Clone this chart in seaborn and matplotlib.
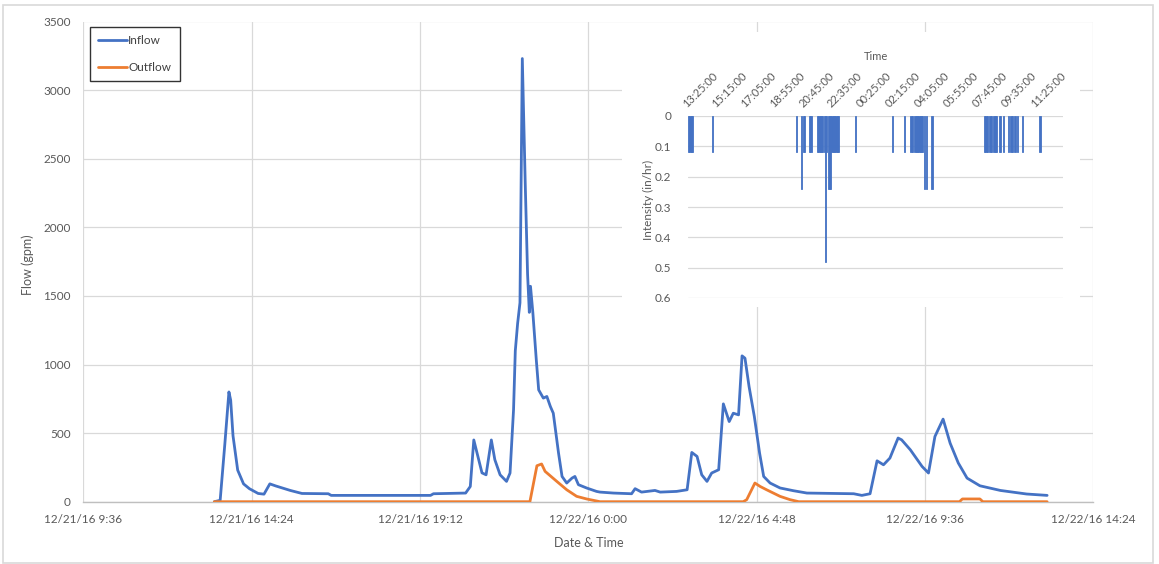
import numpy as np
import pandas as pd
import matplotlib
matplotlib.use("Agg")
import matplotlib.pyplot as plt
import matplotlib.dates as mdates
from matplotlib.patches import Rectangle
import seaborn as sns

# ---------------- data ----------------
inflow_time = [
    "2016-12-21 13:20", "2016-12-21 13:30", "2016-12-21 13:38", "2016-12-21 13:45", "2016-12-21 13:48",
    "2016-12-21 13:52", "2016-12-21 14:00", "2016-12-21 14:10", "2016-12-21 14:20", "2016-12-21 14:35",
    "2016-12-21 14:45", "2016-12-21 14:55", "2016-12-21 15:05", "2016-12-21 15:30", "2016-12-21 15:50",
    "2016-12-21 16:35", "2016-12-21 16:40", "2016-12-21 19:30", "2016-12-21 19:35", "2016-12-21 20:30",
    "2016-12-21 20:38", "2016-12-21 20:44", "2016-12-21 20:51", "2016-12-21 20:58", "2016-12-21 21:05",
    "2016-12-21 21:14", "2016-12-21 21:20", "2016-12-21 21:29", "2016-12-21 21:40", "2016-12-21 21:46",
    "2016-12-21 21:52", "2016-12-21 21:55", "2016-12-21 21:59", "2016-12-21 22:03", "2016-12-21 22:07",
    "2016-12-21 22:12", "2016-12-21 22:16", "2016-12-21 22:19", "2016-12-21 22:21", "2016-12-21 22:25",
    "2016-12-21 22:31", "2016-12-21 22:35", "2016-12-21 22:43", "2016-12-21 22:49", "2016-12-21 22:55",
    "2016-12-21 23:00", "2016-12-21 23:09", "2016-12-21 23:15", "2016-12-21 23:23", "2016-12-21 23:32",
    "2016-12-21 23:37", "2016-12-21 23:43", "2016-12-21 23:57", "2016-12-22 00:14", "2016-12-22 00:20",
    "2016-12-22 00:43", "2016-12-22 01:14", "2016-12-22 01:20", "2016-12-22 01:31", "2016-12-22 01:54",
    "2016-12-22 02:03", "2016-12-22 02:31", "2016-12-22 02:49", "2016-12-22 02:57", "2016-12-22 03:06",
    "2016-12-22 03:14", "2016-12-22 03:23", "2016-12-22 03:31", "2016-12-22 03:43", "2016-12-22 03:51",
    "2016-12-22 04:01", "2016-12-22 04:08", "2016-12-22 04:17", "2016-12-22 04:23", "2016-12-22 04:28",
    "2016-12-22 04:35", "2016-12-22 04:44", "2016-12-22 04:53", "2016-12-22 05:00", "2016-12-22 05:11",
    "2016-12-22 05:28", "2016-12-22 05:51", "2016-12-22 06:14", "2016-12-22 07:34", "2016-12-22 07:48",
    "2016-12-22 08:02", "2016-12-22 08:14", "2016-12-22 08:25", "2016-12-22 08:36", "2016-12-22 08:50",
    "2016-12-22 08:56", "2016-12-22 09:11", "2016-12-22 09:31", "2016-12-22 09:42", "2016-12-22 09:53",
    "2016-12-22 10:07", "2016-12-22 10:19", "2016-12-22 10:33", "2016-12-22 10:48", "2016-12-22 11:10",
    "2016-12-22 11:45", "2016-12-22 12:30", "2016-12-22 13:05",
]
inflow_gpm = [
    0, 10, 420, 800, 740,
    480, 230, 130, 95, 60,
    55, 130, 115, 82, 60,
    58, 46, 46, 58, 63,
    111, 450, 330, 210, 196,
    450, 306, 196, 148, 209,
    670, 1100, 1300, 1450, 3230,
    2320, 1660, 1380, 1570, 1380,
    1030, 815, 755, 767, 694,
    645, 354, 184, 136, 172,
    184, 124, 100, 75, 70,
    63, 58, 95, 70, 82,
    70, 75, 87, 359, 330,
    196, 148, 209, 233, 713,
    584, 645, 633, 1063, 1046,
    839, 621, 354, 184, 136,
    100, 80, 63, 58, 46,
    58, 298, 269, 318, 464,
    451, 378, 257, 209, 475,
    602, 427, 282, 172, 116,
    82, 56, 46,
]

outflow_time = [
    "2016-12-21 13:20", "2016-12-21 22:20", "2016-12-21 22:32", "2016-12-21 22:40", "2016-12-21 22:46",
    "2016-12-21 23:06", "2016-12-21 23:23", "2016-12-21 23:40", "2016-12-21 23:57", "2016-12-22 00:20",
    "2016-12-22 04:25", "2016-12-22 04:31", "2016-12-22 04:45", "2016-12-22 04:54", "2016-12-22 05:05",
    "2016-12-22 05:28", "2016-12-22 05:45", "2016-12-22 06:00", "2016-12-22 10:35", "2016-12-22 10:40",
    "2016-12-22 11:10", "2016-12-22 11:15", "2016-12-22 13:05",
]
outflow_gpm = [
    0, 0, 262, 275, 221,
    148, 87, 39, 20, 0,
    0, 15, 136, 111, 87,
    39, 15, 0, 0, 20,
    20, 0, 0,
]

rain_time = [
    "2016-12-21 13:25", "2016-12-21 13:30", "2016-12-21 13:35", "2016-12-21 13:40", "2016-12-21 14:55",
    "2016-12-21 20:15", "2016-12-21 20:35", "2016-12-21 20:40", "2016-12-21 20:45", "2016-12-21 21:05",
    "2016-12-21 21:10", "2016-12-21 21:35", "2016-12-21 21:40", "2016-12-21 21:45", "2016-12-21 21:50",
    "2016-12-21 21:55", "2016-12-21 22:00", "2016-12-21 22:05", "2016-12-21 22:10", "2016-12-21 22:15",
    "2016-12-21 22:20", "2016-12-21 22:25", "2016-12-21 22:30", "2016-12-21 22:35", "2016-12-21 22:40",
    "2016-12-21 22:45", "2016-12-21 22:50", "2016-12-21 22:55", "2016-12-22 00:00", "2016-12-22 02:20",
    "2016-12-22 03:05", "2016-12-22 03:30", "2016-12-22 03:35", "2016-12-22 03:45", "2016-12-22 03:50",
    "2016-12-22 03:55", "2016-12-22 04:00", "2016-12-22 04:05", "2016-12-22 04:10", "2016-12-22 04:15",
    "2016-12-22 04:20", "2016-12-22 04:30", "2016-12-22 04:50", "2016-12-22 08:10", "2016-12-22 08:15",
    "2016-12-22 08:20", "2016-12-22 08:30", "2016-12-22 08:35", "2016-12-22 08:45", "2016-12-22 08:50",
    "2016-12-22 08:55", "2016-12-22 09:05", "2016-12-22 09:10", "2016-12-22 09:20", "2016-12-22 09:40",
    "2016-12-22 09:50", "2016-12-22 09:55", "2016-12-22 10:05", "2016-12-22 10:15", "2016-12-22 10:35",
    "2016-12-22 11:40",
]
rain_intensity = [
    0.12, 0.12, 0.12, 0.12, 0.12,
    0.12, 0.24, 0.12, 0.12, 0.12,
    0.12, 0.12, 0.12, 0.12, 0.12,
    0.12, 0.12, 0.48, 0.12, 0.24,
    0.24, 0.24, 0.12, 0.12, 0.12,
    0.12, 0.12, 0.12, 0.12, 0.12,
    0.12, 0.12, 0.12, 0.12, 0.12,
    0.12, 0.12, 0.12, 0.12, 0.12,
    0.24, 0.24, 0.24, 0.12, 0.12,
    0.12, 0.12, 0.12, 0.12, 0.12,
    0.12, 0.12, 0.12, 0.12, 0.12,
    0.12, 0.12, 0.12, 0.12, 0.12,
    0.12,
]
rain_start, rain_end = "2016-12-21 13:25", "2016-12-22 13:05"

x_start, x_end = "2016-12-21 09:36", "2016-12-22 14:24"
y_ticks = [0, 500, 1000, 1500, 2000, 2500, 3000, 3500]
inset_y_ticks = [0, 0.1, 0.2, 0.3, 0.4, 0.5, 0.6]

# ---------------- style ----------------
sns.set_theme(style="white")
plt.rcParams["font.family"] = ["Lato", "DejaVu Sans"]

BLUE = "#4472C4"
ORANGE = "#ED7D31"
GRID = "#D9D9D9"
TXT = "#595959"

fig = plt.figure(figsize=(11.59, 5.64), dpi=100)
fig.patch.set_facecolor("white")
fig.patches.append(Rectangle((3 / 1159, 1 / 564), 1150 / 1159, 558 / 564, transform=fig.transFigure,
                             facecolor="none", edgecolor=GRID, lw=1.2, zorder=0))

ax = fig.add_axes([83.4 / 1159, 1 - 501.7 / 564, 1009.9 / 1159, 480.2 / 564])

df_in = pd.DataFrame({"time": pd.to_datetime(inflow_time), "flow": inflow_gpm})
df_out = pd.DataFrame({"time": pd.to_datetime(outflow_time), "flow": outflow_gpm})

sns.lineplot(data=df_in, x="time", y="flow", ax=ax, color=BLUE, lw=2.0, label="Inflow", zorder=3)
sns.lineplot(data=df_out, x="time", y="flow", ax=ax, color=ORANGE, lw=2.0, label="Outflow", zorder=3)

xt = pd.date_range(x_start, x_end, freq="288min")
ax.set_xlim(mdates.date2num(pd.Timestamp(x_start)), mdates.date2num(pd.Timestamp(x_end)))
ax.set_xticks(mdates.date2num(xt))
ax.set_xticklabels([f"{d.month}/{d.day}/{d:%y} {d.hour}:{d:%M}" for d in xt])
ax.set_ylim(0, 3500)
ax.set_yticks(y_ticks)
ax.set_yticklabels([str(v) for v in y_ticks])
ax.grid(True, color=GRID, lw=0.9)
ax.set_axisbelow(True)
for s in ["top", "right", "left"]:
    ax.spines[s].set_visible(False)
ax.spines["bottom"].set_color("#BFBFBF")
ax.spines["bottom"].set_linewidth(1.0)
ax.tick_params(axis="both", length=0, labelsize=8.5, colors=TXT)
ax.tick_params(axis="y", pad=9)
ax.tick_params(axis="x", pad=9)
ax.set_xlabel("Date & Time", fontsize=9, color=TXT, va="center")
ax.xaxis.set_label_coords(0.5, (501.7 - 543) / 480.2)
ax.set_ylabel("Flow (gpm)", fontsize=9, color=TXT, va="center", ha="center")
ax.yaxis.set_label_coords((28 - 83.4) / 1009.9, (501.7 - 265) / 480.2)

leg = ax.legend(loc="upper left", bbox_to_anchor=((90 - 83.4) / 1009.9, (501.7 - 27) / 480.2),
                borderaxespad=0, fontsize=8.5, frameon=True, fancybox=False, handlelength=2.4,
                handletextpad=0.15, labelspacing=1.35, borderpad=0.7)
leg.get_frame().set_edgecolor("black")
leg.get_frame().set_linewidth(1.0)
for t in leg.get_texts():
    t.set_color("#404040")

# ---------------- inset ----------------
fig.patches.append(Rectangle((622 / 1159, 1 - 307 / 564), 458 / 1159, 275 / 564, transform=fig.transFigure,
                             facecolor="white", edgecolor="none", zorder=1))
axin = fig.add_axes([688 / 1159, 1 - 298 / 564, 375 / 1159, 182 / 564], zorder=2)
axin.patch.set_alpha(0)

full_idx = pd.date_range(rain_start, rain_end, freq="5min")
rain = pd.Series(rain_intensity, index=pd.to_datetime(rain_time)).reindex(full_idx, fill_value=0.0)
labels = [f"{d:%H:%M:%S}" for d in full_idx]
df_rain = pd.DataFrame({"time": labels, "intensity": rain.values})
sns.barplot(data=df_rain, x="time", y="intensity", order=labels, color=BLUE, saturation=1,
            width=0.9, ax=axin, linewidth=0.6, edgecolor=BLUE, zorder=3)
for p in axin.patches:
    if p.get_height() == 0:
        p.set_visible(False)
axin.set_xlim(-0.5, len(labels) - 0.5)
axin.set_ylim(0.6, 0)
axin.set_yticks(inset_y_ticks)
axin.set_yticklabels(["0"] + [f"{v:.1f}" for v in inset_y_ticks[1:]])
pos = list(range(0, len(labels), 22))
axin.set_xticks(pos)
axin.set_xticklabels([labels[p] for p in pos], rotation=45, ha="left", va="bottom", rotation_mode="anchor")
axin.xaxis.tick_top()
axin.grid(True, axis="y", color=GRID, lw=0.9)
axin.grid(False, axis="x")
axin.set_axisbelow(True)
for s in axin.spines.values():
    s.set_visible(False)
axin.tick_params(axis="x", length=0, labelsize=8, colors=TXT, pad=5)
axin.tick_params(axis="y", length=0, labelsize=8.5, colors=TXT, pad=12)
axin.set_xlabel("")
axin.set_ylabel("")
axin.text(0.5, (298 - 57) / 182, "Time", transform=axin.transAxes, ha="center", va="center",
          fontsize=8, color=TXT)
axin.text((648 - 688) / 375, (298 - 200) / 182, "Intensity (in/hr)", transform=axin.transAxes,
          ha="center", va="center", rotation=90, fontsize=8.5, color=TXT)

fig.savefig("out.png", dpi=100)
